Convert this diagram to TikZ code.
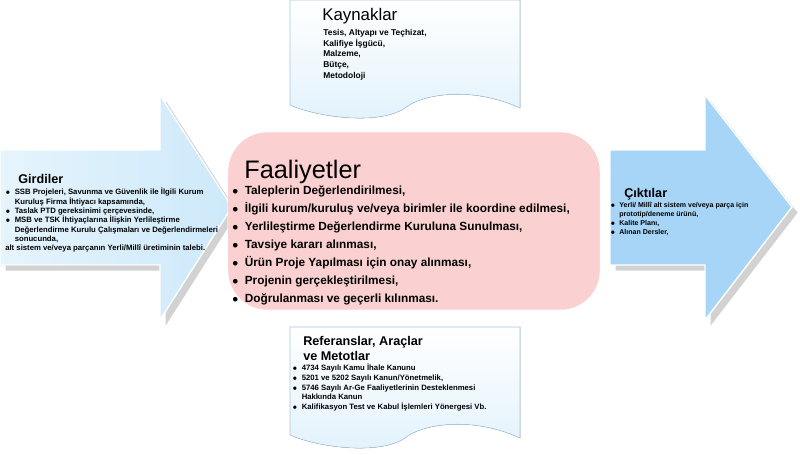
\documentclass[tikz,border=0pt]{standalone}
\usepackage{fontspec}
\setmainfont{Liberation Sans}
\usepackage{tikz}
\usetikzlibrary{positioning,shadows}
\definecolor{inblue}{HTML}{CDE9FA}
\definecolor{outblue}{HTML}{A6D5F7}
\definecolor{docline}{HTML}{A9C6E3}
\definecolor{actpink}{HTML}{FAD0D0}
\tikzset{
  arrowshape/.style={draw=white, line width=1pt, drop shadow={shadow xshift=4pt, shadow yshift=-4pt, fill=gray!70}},
  docshape/.style={draw=docline, top color=white, bottom color=inblue!60},
  headtxt/.style={anchor=north west, inner sep=0pt, font=\large},
  listtxt/.style={anchor=north west, inner sep=0pt, align=left, font=\fontsize{5.5}{6.6}\selectfont\bfseries},
}
\begin{document}
\begin{tikzpicture}[x=0.025cm,y=-0.025cm]
\useasboundingbox (0,0) rectangle (800,454);

% girdi oku
\filldraw[arrowshape, left color=inblue!50, right color=inblue]
  (0,150) -- (160,150) -- (160,95) -- (232,207) -- (160,320) -- (160,265) -- (0,265) -- cycle;
% cikti oku
\filldraw[arrowshape, fill=outblue]
  (610,150) -- (705,150) -- (705,95) -- (792,207) -- (705,320) -- (705,265) -- (610,265) -- cycle;

% faaliyetler
\node[draw=white, fill=actpink, rounded corners=28pt, minimum width=9.3cm, minimum height=4.45cm] (act) at (414,221) {};

% kaynaklar
\filldraw[docshape] (290,0) -- (520,0) -- (520,108)
  .. controls (470,85) and (420,95) .. (405,108)
  .. controls (380,125) and (320,118) .. (290,105) -- cycle;
% referanslar
\filldraw[docshape] (290,327) -- (520,327) -- (520,438)
  .. controls (470,415) and (420,425) .. (405,438)
  .. controls (380,455) and (320,448) .. (290,435) -- cycle;

% metinler
\node[headtxt] (kayhead) at (322,8) {Kaynaklar};
\node[listtxt, font=\fontsize{6}{7.6}\selectfont\bfseries] (kaylist) at (323,29) {Tesis, Altyapı ve Teçhizat,\\Kalifiye İşgücü,\\Malzeme,\\Bütçe,\\Metodoloji};

\node[headtxt, font=\fontsize{18}{22}\selectfont] (acthead) at (244,160) {Faaliyetler};
\node[anchor=north west, inner sep=0pt, font=\fontsize{8.4}{12.8}\selectfont\bfseries, align=left] (actlist) at (232,186)
 {$\bullet$\ \ Taleplerin Değerlendirilmesi,\\
  $\bullet$\ \ İlgili kurum/kuruluş ve/veya birimler ile koordine edilmesi,\\
  $\bullet$\ \ Yerlileştirme Değerlendirme Kuruluna Sunulması,\\
  $\bullet$\ \ Tavsiye kararı alınması,\\
  $\bullet$\ \ Ürün Proje Yapılması için onay alınması,\\
  $\bullet$\ \ Projenin gerçekleştirilmesi,\\
  $\bullet$\ \ Doğrulanması ve geçerli kılınması.};

\node[headtxt, font=\fontsize{9}{10}\selectfont\bfseries] (inhead) at (18,174) {Girdiler};
\node[listtxt] (inlist) at (5,188)
 {$\bullet$\ \ SSB Projeleri, Savunma ve Güvenlik ile İlgili Kurum\\
  \phantom{$\bullet$\ \ }Kuruluş Firma İhtiyacı kapsamında,\\
  $\bullet$\ \ Taslak PTD gereksinimi çerçevesinde,\\
  $\bullet$\ \ MSB ve TSK İhtiyaçlarına İlişkin Yerlileştirme\\
  \phantom{$\bullet$\ \ }Değerlendirme Kurulu Çalışmaları ve Değerlendirmeleri\\
  \phantom{$\bullet$\ \ }sonucunda,\\
  alt sistem ve/veya parçanın Yerli/Millî üretiminin talebi.};

\node[headtxt, font=\fontsize{9}{10}\selectfont\bfseries] (outhead) at (624,188) {Çıktılar};
\node[listtxt, font=\fontsize{5}{6.4}\selectfont\bfseries] (outlist) at (610,202)
 {$\bullet$\ \ Yerli/ Millî alt sistem ve/veya parça için\\
  \phantom{$\bullet$\ \ }prototip/deneme ürünü,\\
  $\bullet$\ \ Kalite Planı,\\
  $\bullet$\ \ Alınan Dersler,};

\node[headtxt, font=\fontsize{9}{11}\selectfont\bfseries, align=left] (refhead) at (303,336) {Referanslar, Araçlar\\ve Metotlar};
\node[listtxt, font=\fontsize{5.5}{6.8}\selectfont\bfseries] (reflist) at (292,364)
 {$\bullet$\ \ 4734 Sayılı Kamu İhale Kanunu\\
  $\bullet$\ \ 5201 ve 5202 Sayılı Kanun/Yönetmelik,\\
  $\bullet$\ \ 5746 Sayılı Ar-Ge Faaliyetlerinin Desteklenmesi\\
  \phantom{$\bullet$\ \ }Hakkında Kanun\\
  $\bullet$\ \ Kalifikasyon Test ve Kabul İşlemleri Yönergesi Vb.};
\end{tikzpicture}
\end{document}
